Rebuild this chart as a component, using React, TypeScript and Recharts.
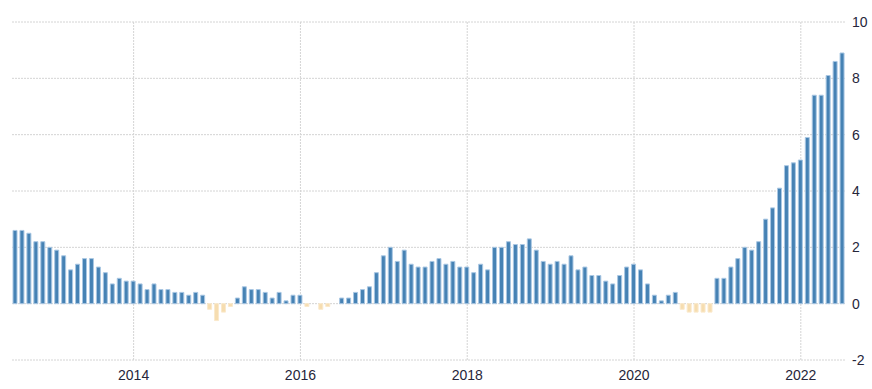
import React from "react";
import { BarChart, Bar, XAxis, YAxis, CartesianGrid, Cell } from "recharts";

// monthly categories, Aug 2012 .. Jul 2022
const months: string[] = [
  "2012-08", "2012-09", "2012-10", "2012-11", "2012-12",
  "2013-01", "2013-02", "2013-03", "2013-04", "2013-05", "2013-06", "2013-07", "2013-08", "2013-09", "2013-10", "2013-11", "2013-12",
  "2014-01", "2014-02", "2014-03", "2014-04", "2014-05", "2014-06", "2014-07", "2014-08", "2014-09", "2014-10", "2014-11", "2014-12",
  "2015-01", "2015-02", "2015-03", "2015-04", "2015-05", "2015-06", "2015-07", "2015-08", "2015-09", "2015-10", "2015-11", "2015-12",
  "2016-01", "2016-02", "2016-03", "2016-04", "2016-05", "2016-06", "2016-07", "2016-08", "2016-09", "2016-10", "2016-11", "2016-12",
  "2017-01", "2017-02", "2017-03", "2017-04", "2017-05", "2017-06", "2017-07", "2017-08", "2017-09", "2017-10", "2017-11", "2017-12",
  "2018-01", "2018-02", "2018-03", "2018-04", "2018-05", "2018-06", "2018-07", "2018-08", "2018-09", "2018-10", "2018-11", "2018-12",
  "2019-01", "2019-02", "2019-03", "2019-04", "2019-05", "2019-06", "2019-07", "2019-08", "2019-09", "2019-10", "2019-11", "2019-12",
  "2020-01", "2020-02", "2020-03", "2020-04", "2020-05", "2020-06", "2020-07", "2020-08", "2020-09", "2020-10", "2020-11", "2020-12",
  "2021-01", "2021-02", "2021-03", "2021-04", "2021-05", "2021-06", "2021-07", "2021-08", "2021-09", "2021-10", "2021-11", "2021-12",
  "2022-01", "2022-02", "2022-03", "2022-04", "2022-05", "2022-06", "2022-07",
];

const rates: number[] = [
  2.6, 2.6, 2.5, 2.2, 2.2,
  2.0, 1.9, 1.7, 1.2, 1.4, 1.6, 1.6, 1.3, 1.1, 0.7, 0.9, 0.8,
  0.8, 0.7, 0.5, 0.7, 0.5, 0.5, 0.4, 0.4, 0.3, 0.4, 0.3, -0.2,
  -0.6, -0.3, -0.1, 0.2, 0.6, 0.5, 0.5, 0.4, 0.2, 0.4, 0.1, 0.3,
  0.3, -0.1, 0.0, -0.2, -0.1, 0.0, 0.2, 0.2, 0.4, 0.5, 0.6, 1.1,
  1.7, 2.0, 1.5, 1.9, 1.4, 1.3, 1.3, 1.5, 1.6, 1.4, 1.5, 1.3,
  1.3, 1.1, 1.4, 1.2, 2.0, 2.0, 2.2, 2.1, 2.1, 2.3, 1.9, 1.5,
  1.4, 1.5, 1.4, 1.7, 1.2, 1.3, 1.0, 1.0, 0.8, 0.7, 1.0, 1.3,
  1.4, 1.2, 0.7, 0.3, 0.1, 0.3, 0.4, -0.2, -0.3, -0.3, -0.3, -0.3,
  0.9, 0.9, 1.3, 1.6, 2.0, 1.9, 2.2, 3.0, 3.4, 4.1, 4.9, 5.0,
  5.1, 5.9, 7.4, 7.4, 8.1, 8.6, 8.9,
];

const xTicks = ["2014-01", "2016-01", "2018-01", "2020-01", "2022-01"];
const yTicks = [-2, 0, 2, 4, 6, 8, 10];

const data = months.map((m, i) => ({ month: m, value: rates[i] }));

const tickStyle = { fontSize: 14, fill: "#26263a", fontFamily: "'Liberation Sans', Arial, sans-serif" };

// vertical grid only at the year ticks, centred on the bar band
const yearLines = (props: any) => {
  const s = props?.xAxis?.scale;
  if (!s) return [];
  const project = (v: string): number => {
    if (typeof s === "function") return s(v);
    if (typeof s.map === "function") return s.map(v, { position: "middle" });
    if (typeof s.scale === "function") return s.scale(v);
    return NaN;
  };
  let bw = 0;
  if (typeof s === "function" && typeof s.bandwidth === "function") bw = s.bandwidth();
  return xTicks.map((t) => project(t) + bw / 2).filter((x) => Number.isFinite(x));
};

export default function App() {
  return (
    <div style={{ position: "absolute", left: 0, top: 0, width: 872, height: 389, background: "#fff" }}>
      <BarChart
        width={872}
        height={389}
        data={data}
        margin={{ top: 22, right: 0, bottom: 0, left: 12 }}
        barSize={4}
      >
        <CartesianGrid
          stroke="#d4d4d4"
          strokeDasharray="2 1"
          verticalCoordinatesGenerator={yearLines}
        />
        <XAxis
          dataKey="month"
          ticks={xTicks}
          tickFormatter={(v: string) => v.slice(0, 4)}
          axisLine={false}
          tickLine={false}
          interval={0}
          height={29}
          tickMargin={4}
          tick={tickStyle}
        />
        <YAxis
          orientation="right"
          domain={[-2, 10]}
          ticks={yTicks}
          axisLine={false}
          tickLine={false}
          tickSize={0}
          tickMargin={6}
          width={26}
          tick={{ ...tickStyle, textAnchor: "start" }}
        />
        <Bar dataKey="value" isAnimationActive={false} strokeWidth={1}>
          {data.map((d) => (
            <Cell
              key={d.month}
              fill={d.value < 0 ? "#f6ddb0" : "#4682b4"}
              stroke={d.value < 0 ? "#fae9cc" : "#a9c7e3"}
            />
          ))}
        </Bar>
      </BarChart>
    </div>
  );
}
